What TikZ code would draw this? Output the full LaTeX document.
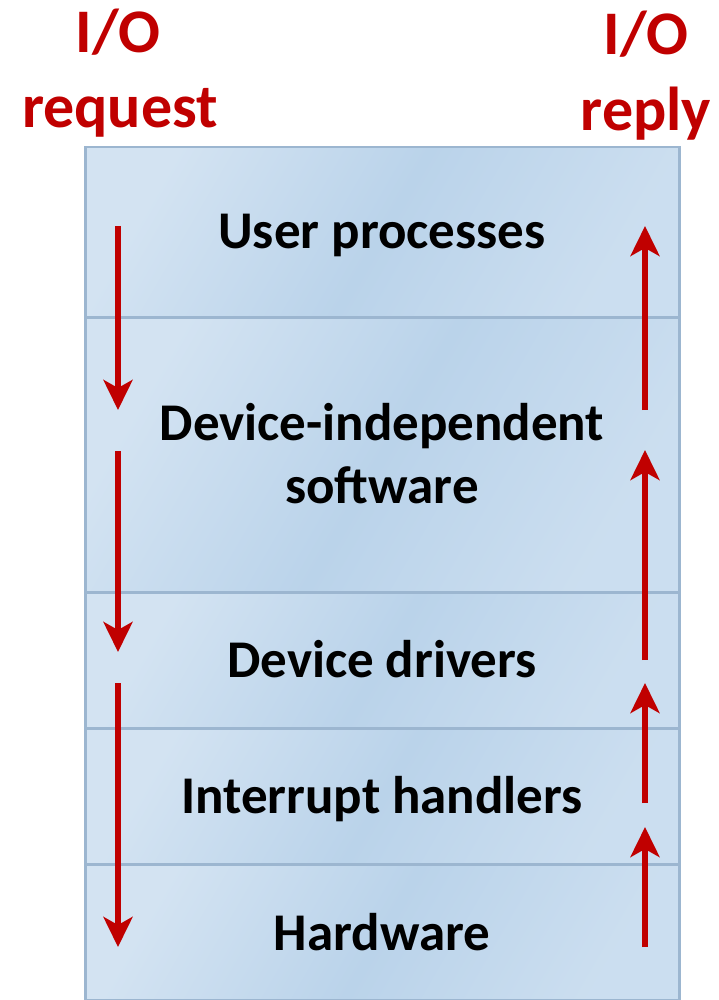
\documentclass[tikz,border=0pt]{standalone}
\usepackage{fontspec}
\setmainfont{Carlito}
\usetikzlibrary{arrows.meta}
\definecolor{redio}{HTML}{C00000}
\definecolor{layerlight}{HTML}{D3E3F2}
\definecolor{layerdark}{HTML}{BAD3EA}
\definecolor{layeredge}{HTML}{9CB6D0}
\tikzset{
  layerbox/.style={rectangle, anchor=north west, minimum width=594pt, inner sep=0pt,
    left color=layerlight, right color=layerlight!70!layerdark, middle color=layerdark,
    shading angle=60, draw=layeredge, line width=2.5pt},
  layertext/.style={anchor=base, inner sep=0pt, font=\fontsize{53}{60}\selectfont\bfseries, text=black},
  redtext/.style={anchor=base, inner sep=0pt, font=\fontsize{62}{70}\selectfont\bfseries, text=redio},
  flow/.style={draw=redio, line width=6pt, -{Stealth[length=30pt, width=29pt, inset=8pt]}}
}
\begin{document}
\begin{tikzpicture}[x=1pt,y=-1pt]
\useasboundingbox (0,0) rectangle (718,1000);
% layers
\node[layerbox, minimum height=170pt] (L1) at (84,146) {};
\node[layerbox, minimum height=275pt] (L2) at (84,316) {};
\node[layerbox, minimum height=136pt] (L3) at (84,591) {};
\node[layerbox, minimum height=136pt] (L4) at (84,727) {};
\node[layerbox, minimum height=136pt] (L5) at (84,863) {};
% labels
\node[redtext] (reqa) at (118,53) {I/O};
\node[redtext] (reqb) at (120,128) {request};
\node[redtext] (repa) at (646,55) {I/O};
\node[redtext] (repb) at (646,131) {reply};
\node[layertext] (t1) at (382,248) {User processes};
\node[layertext] (t2a) at (382,440) {Device-independent};
\node[layertext] (t2b) at (382,503) {software};
\node[layertext] (t3) at (382,677) {Device drivers};
\node[layertext] (t4) at (382,813) {Interrupt handlers};
\node[layertext] (t5) at (382,950) {Hardware};
% arrow end points
\coordinate (d1s) at (118,226); \coordinate (d1e) at (118,410);
\coordinate (d2s) at (118,451); \coordinate (d2e) at (118,652);
\coordinate (d3s) at (118,683); \coordinate (d3e) at (118,947);
\coordinate (u1s) at (645,410); \coordinate (u1e) at (645,226);
\coordinate (u2s) at (645,660); \coordinate (u2e) at (645,450);
\coordinate (u3s) at (645,803); \coordinate (u3e) at (645,683);
\coordinate (u4s) at (645,947); \coordinate (u4e) at (645,827);
\draw[flow] (d1s) -- (d1e);
\draw[flow] (d2s) -- (d2e);
\draw[flow] (d3s) -- (d3e);
\draw[flow] (u1s) -- (u1e);
\draw[flow] (u2s) -- (u2e);
\draw[flow] (u3s) -- (u3e);
\draw[flow] (u4s) -- (u4e);
\end{tikzpicture}
\end{document}
